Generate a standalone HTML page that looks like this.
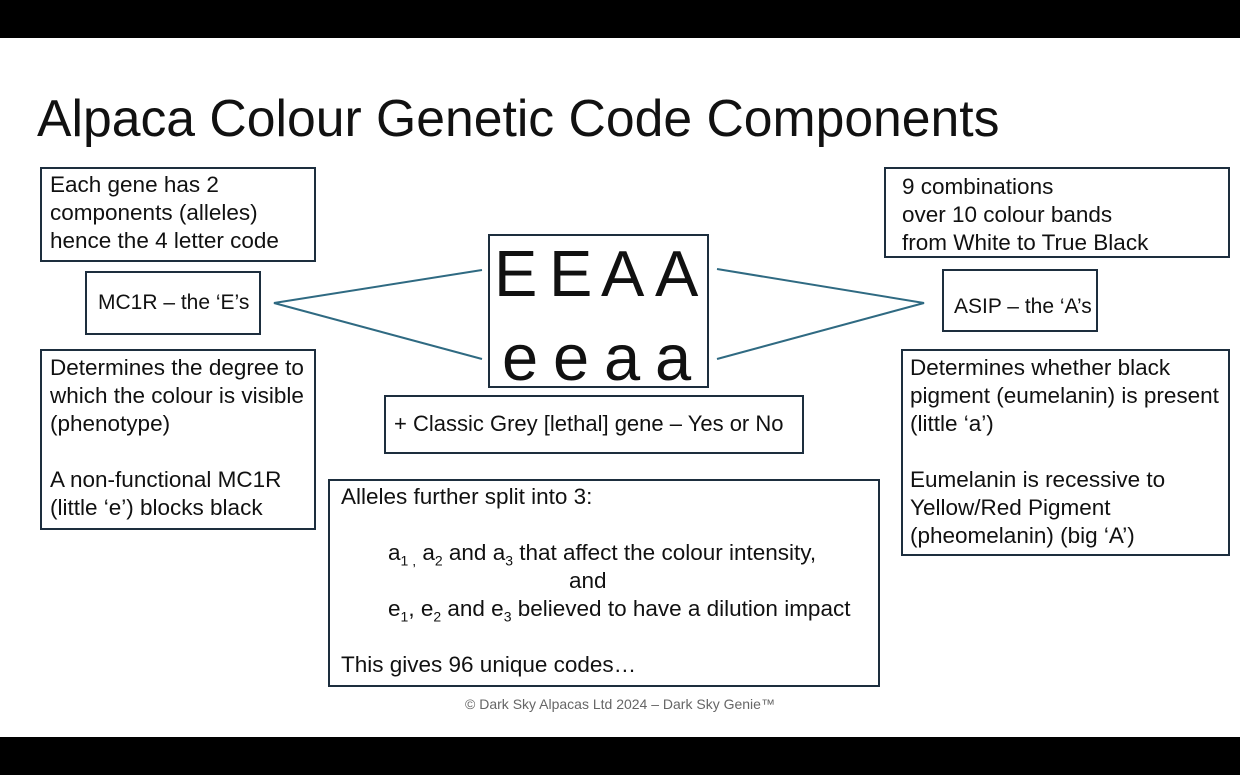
<!DOCTYPE html>
<html><head><meta charset="utf-8"><style>
html,body{margin:0;padding:0}
body{width:1240px;height:775px;position:relative;background:#fff;overflow:hidden;font-family:"Liberation Sans",sans-serif;color:#111}
.bar{position:absolute;left:0;width:1240px;background:#000}
.box{position:absolute;border:2px solid #1d2e3e;box-sizing:border-box}
.t{position:absolute;font-size:22.5px;white-space:nowrap;line-height:28px}
.L{position:absolute;font-size:65px;line-height:72px}
sub{font-size:14px;line-height:0}
</style></head><body>
<div class="bar" style="top:0;height:38px"></div>
<div class="bar" style="top:737px;height:38px"></div>
<div class="t" style="left:37px;top:88px;font-size:51.7px;line-height:60px">Alpaca Colour Genetic Code Components</div>

<div class="box" style="left:40px;top:167px;width:276px;height:95px"></div>
<div class="t" style="left:50px;top:171px">Each gene has 2<br>components (alleles)<br>hence the 4 letter code</div>

<div class="box" style="left:85px;top:271px;width:176px;height:64px"></div>
<div class="t" style="left:98px;top:289px;font-size:21px">MC1R – the ‘E’s</div>

<div class="box" style="left:40px;top:349px;width:276px;height:181px"></div>
<div class="t" style="left:50px;top:354px">Determines the degree to<br>which the colour is visible<br>(phenotype)<br><br>A non-functional MC1R<br>(little ‘e’) blocks black</div>

<div class="box" style="left:488px;top:234px;width:221px;height:154px"></div>
<div class="L" style="left:494px;top:238px">E</div>
<div class="L" style="left:549px;top:238px">E</div>
<div class="L" style="left:601px;top:238px">A</div>
<div class="L" style="left:655px;top:238px">A</div>
<div class="L" style="left:502px;top:322px">e</div>
<div class="L" style="left:553px;top:322px">e</div>
<div class="L" style="left:604px;top:322px">a</div>
<div class="L" style="left:655px;top:322px">a</div>

<div class="box" style="left:384px;top:395px;width:420px;height:59px"></div>
<div class="t" style="left:394px;top:410px;font-size:22px">+ Classic Grey [lethal] gene – Yes or No</div>

<div class="box" style="left:328px;top:479px;width:552px;height:208px"></div>
<div class="t" style="left:341px;top:483px">Alleles further split into 3:</div>
<div class="t" style="left:388px;top:539px">a<sub>1 ,</sub> a<sub>2</sub> and a<sub>3</sub> that affect the colour intensity,</div>
<div class="t" style="left:569px;top:567px">and</div>
<div class="t" style="left:388px;top:595px">e<sub>1</sub>, e<sub>2</sub> and e<sub>3</sub> believed to have a dilution impact</div>
<div class="t" style="left:341px;top:651px">This gives 96 unique codes…</div>

<div class="box" style="left:884px;top:167px;width:346px;height:91px"></div>
<div class="t" style="left:902px;top:173px">9 combinations<br>over 10 colour bands<br>from White to True Black</div>

<div class="box" style="left:942px;top:269px;width:156px;height:63px"></div>
<div class="t" style="left:954px;top:293px;font-size:21px">ASIP – the ‘A’s</div>

<div class="box" style="left:901px;top:349px;width:329px;height:207px"></div>
<div class="t" style="left:910px;top:354px">Determines whether black<br>pigment (eumelanin) is present<br>(little ‘a’)<br><br>Eumelanin is recessive to<br>Yellow/Red Pigment<br>(pheomelanin) (big ‘A’)</div>

<svg style="position:absolute;left:0;top:0" width="1240" height="775">
<g stroke="#2f6a82" stroke-width="2" fill="none">
<polyline points="482,270 274,303 482,359"/>
<polyline points="717,269 924,303 717,359"/>
</g></svg>

<div class="t" style="left:0;width:1240px;text-align:center;top:694px;font-size:14px;line-height:20px;color:#666">© Dark Sky Alpacas Ltd 2024 – Dark Sky Genie™</div>
</body></html>
